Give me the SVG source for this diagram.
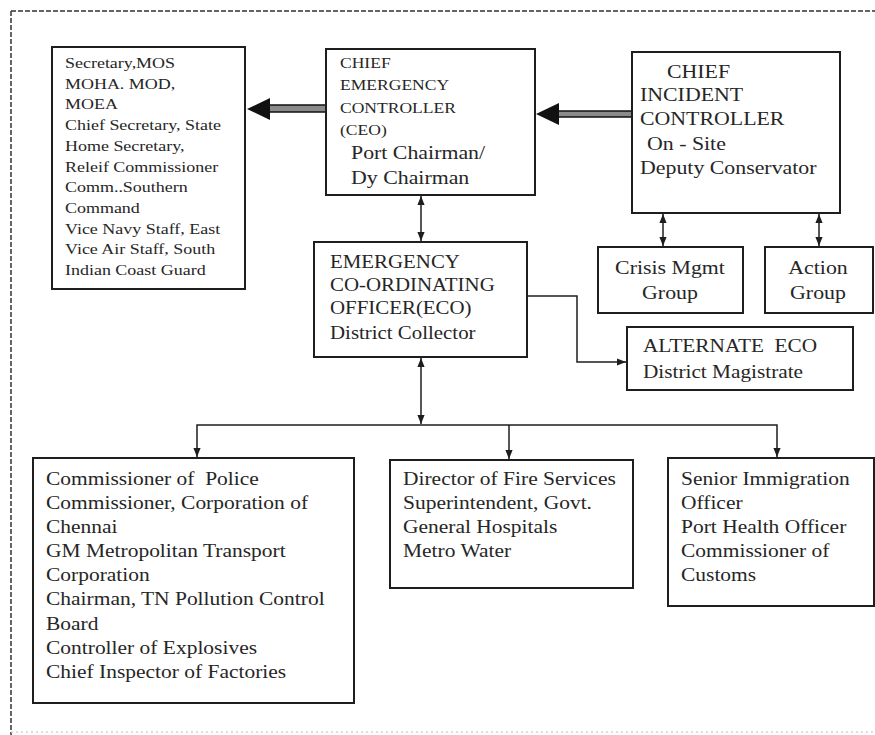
<svg xmlns="http://www.w3.org/2000/svg" width="875" height="735" viewBox="0 0 875 735">
<defs>
<style>
.box{fill:#fff;stroke:#1e1e1e;stroke-width:2}
.t{font-family:"Liberation Serif","Times New Roman",serif;fill:#262626}
.ln{fill:none;stroke:#1e1e1e;stroke-width:1.5}
.shaft{fill:#8a8a8a;stroke:#111;stroke-width:1.5}
.head{fill:#111}
</style>
<marker id="ah" viewBox="0 0 10 8" markerUnits="userSpaceOnUse" markerWidth="9" markerHeight="8" refX="10" refY="4" orient="auto-start-reverse">
<path d="M0,0 L10,4 L0,8 z" fill="#1e1e1e"/>
</marker>
</defs>
<rect width="875" height="735" fill="#fff"/>
<g id="frame">
<path d="M11,11 H875" fill="none" stroke="#333" stroke-width="1.5" stroke-dasharray="5,2"/>
<path d="M11,11 V735" fill="none" stroke="#333" stroke-width="1.5" stroke-dasharray="5,2"/>
<path d="M11,732 H875" fill="none" stroke="#d4d4d4" stroke-width="1.5" stroke-dasharray="2,3"/>
</g>
<g id="connectors">
<rect class="shaft" x="268" y="105" width="58" height="7"/>
<polygon class="head" points="247,109 270,98 270,120"/>
<rect class="shaft" x="557" y="111" width="75" height="6"/>
<polygon class="head" points="536,114 559,103 559,125"/>
<line class="ln" x1="421" y1="196" x2="421" y2="241" marker-start="url(#ah)" marker-end="url(#ah)"/>
<line class="ln" x1="663" y1="214" x2="663" y2="246" marker-start="url(#ah)" marker-end="url(#ah)"/>
<line class="ln" x1="819" y1="214" x2="819" y2="246" marker-start="url(#ah)" marker-end="url(#ah)"/>
<polyline class="ln" points="528,296 577,296 577,362 626,362" marker-end="url(#ah)"/>
<line class="ln" x1="421" y1="358" x2="421" y2="424" marker-start="url(#ah)" marker-end="url(#ah)"/>
<polyline class="ln" points="197,457 197,425 777,425 777,457" marker-start="url(#ah)" marker-end="url(#ah)"/>
<line class="ln" x1="509" y1="425" x2="509" y2="459" marker-end="url(#ah)"/>
</g>
<g id="secretary">
<rect class="box" x="52" y="47" width="193" height="242"/>
<g class="t" font-size="15.5">
<text transform="translate(65,68) scale(1.16,1)">Secretary,MOS</text>
<text transform="translate(65,88.7) scale(1.16,1)">MOHA. MOD,</text>
<text transform="translate(65,109.4) scale(1.16,1)">MOEA</text>
<text transform="translate(65,130.1) scale(1.16,1)">Chief Secretary, State</text>
<text transform="translate(65,150.8) scale(1.16,1)">Home Secretary,</text>
<text transform="translate(65,171.5) scale(1.16,1)">Releif Commissioner</text>
<text transform="translate(65,192.2) scale(1.16,1)">Comm..Southern</text>
<text transform="translate(65,212.9) scale(1.16,1)">Command</text>
<text transform="translate(65,233.6) scale(1.16,1)">Vice Navy Staff, East</text>
<text transform="translate(65,254.3) scale(1.16,1)">Vice Air Staff, South</text>
<text transform="translate(65,275) scale(1.16,1)">Indian Coast Guard</text>
</g>
</g>
<g id="ceo">
<rect class="box" x="326" y="49" width="209" height="146"/>
<g class="t" font-size="15">
<text transform="translate(340,68) scale(1.17,1)">CHIEF</text>
<text transform="translate(340,90) scale(1.17,1)">EMERGENCY</text>
<text transform="translate(340,113) scale(1.17,1)">CONTROLLER</text>
<text transform="translate(340,135) scale(1.17,1)">(CEO)</text>
</g>
<g class="t" font-size="19">
<text transform="translate(351,159) scale(1.15,1)">Port Chairman/</text>
<text transform="translate(351,184) scale(1.15,1)">Dy Chairman</text>
</g>
</g>
<g id="cic">
<rect class="box" x="632" y="52" width="208" height="161"/>
<g class="t" font-size="19">
<text transform="translate(667,78) scale(1.15,1)">CHIEF</text>
<text transform="translate(640,101) scale(1.15,1)">INCIDENT</text>
<text transform="translate(640,125) scale(1.15,1)">CONTROLLER</text>
<text transform="translate(647,150) scale(1.15,1)">On - Site</text>
<text transform="translate(640,174) scale(1.15,1)">Deputy Conservator</text>
</g>
</g>
<g id="crisis">
<rect class="box" x="598" y="247" width="145" height="66"/>
<g class="t" font-size="19" text-anchor="middle">
<text transform="translate(670,274) scale(1.15,1)">Crisis Mgmt</text>
<text transform="translate(670,299) scale(1.15,1)">Group</text>
</g>
</g>
<g id="action">
<rect class="box" x="765" y="247" width="108" height="66"/>
<g class="t" font-size="19" text-anchor="middle">
<text transform="translate(818,274) scale(1.15,1)">Action</text>
<text transform="translate(818,299) scale(1.15,1)">Group</text>
</g>
</g>
<g id="eco">
<rect class="box" x="314" y="242" width="213" height="115"/>
<g class="t" font-size="18.5">
<text transform="translate(330,268) scale(1.13,1)">EMERGENCY</text>
<text transform="translate(330,291) scale(1.13,1)">CO-ORDINATING</text>
<text transform="translate(330,314) scale(1.13,1)">OFFICER(ECO)</text>
<text transform="translate(330,339) scale(1.13,1)">District Collector</text>
</g>
</g>
<g id="alternate-eco">
<rect class="box" x="627" y="327" width="226" height="63"/>
<g class="t" font-size="18.5">
<text transform="translate(643,352) scale(1.15,1)" xml:space="preserve">ALTERNATE  ECO</text>
<text transform="translate(643,378) scale(1.15,1)">District Magistrate</text>
</g>
</g>
<g id="police">
<rect class="box" x="33" y="458" width="321" height="245"/>
<g class="t" font-size="19">
<text transform="translate(46,485) scale(1.13,1)" xml:space="preserve">Commissioner of  Police</text>
<text transform="translate(46,509) scale(1.13,1)">Commissioner, Corporation of</text>
<text transform="translate(46,533) scale(1.13,1)">Chennai</text>
<text transform="translate(46,557) scale(1.13,1)">GM Metropolitan Transport</text>
<text transform="translate(46,581) scale(1.13,1)">Corporation</text>
<text transform="translate(46,605) scale(1.13,1)">Chairman, TN Pollution Control</text>
<text transform="translate(46,630) scale(1.13,1)">Board</text>
<text transform="translate(46,654) scale(1.13,1)">Controller of Explosives</text>
<text transform="translate(46,678) scale(1.13,1)">Chief Inspector of Factories</text>
</g>
</g>
<g id="fire">
<rect class="box" x="390" y="460" width="243" height="128"/>
<g class="t" font-size="19">
<text transform="translate(403,485) scale(1.13,1)">Director of Fire Services</text>
<text transform="translate(403,509) scale(1.13,1)">Superintendent, Govt.</text>
<text transform="translate(403,533) scale(1.13,1)">General Hospitals</text>
<text transform="translate(403,557) scale(1.13,1)">Metro Water</text>
</g>
</g>
<g id="immigration">
<rect class="box" x="668" y="458" width="206" height="148"/>
<g class="t" font-size="19">
<text transform="translate(681,485) scale(1.13,1)">Senior Immigration</text>
<text transform="translate(681,509) scale(1.13,1)">Officer</text>
<text transform="translate(681,533) scale(1.13,1)">Port Health Officer</text>
<text transform="translate(681,557) scale(1.13,1)">Commissioner of</text>
<text transform="translate(681,581) scale(1.13,1)">Customs</text>
</g>
</g>
</svg>
